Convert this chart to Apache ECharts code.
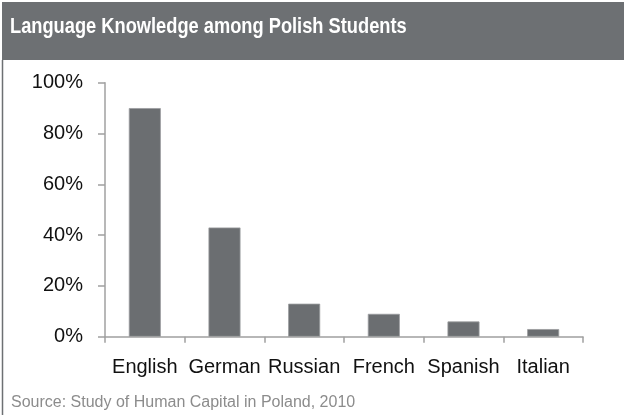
<!DOCTYPE html>
<html>
<head>
<meta charset="utf-8">
<script src="https://cdn.jsdelivr.net/npm/echarts@6/dist/echarts.min.js"></script>
<style>
html,body{margin:0;padding:0;background:#fff;}
#c{width:624px;height:417px;}
</style>
</head>
<body>
<div id="c"></div>
<script>
const titleText = "Language Knowledge among Polish Students";
const sourceText = "Source: Study of Human Capital in Poland, 2010";
const categories = ["English", "German", "Russian", "French", "Spanish", "Italian"];
const values = [90, 43, 13, 9, 6, 3];
const yTicks = [0, 20, 40, 60, 80, 100];

const FONT = '"Liberation Sans", Arial, sans-serif';
const chart = echarts.init(document.getElementById('c'), null, {renderer: 'canvas'});
chart.setOption({
  animation: false,
  backgroundColor: '#ffffff',
  graphic: [
    {type: 'rect', z: -1, shape: {x: 2, y: 2, width: 622, height: 58}, style: {fill: '#6d7073'}},
    {type: 'line', shape: {x1: 2.5, y1: 60, x2: 2.5, y2: 415}, style: {stroke: '#6d7073', lineWidth: 1.5}},
    {type: 'text', x: 10, y: 27, scaleX: 0.83, originX: 0, originY: 0,
      style: {text: titleText, fill: '#ffffff', font: 'bold 22px ' + FONT, verticalAlign: 'middle', align: 'left'}},
    {type: 'text', x: 11, y: 403, style: {text: sourceText, fill: '#8c8c8c', font: '16px ' + FONT, verticalAlign: 'middle'}}
  ],
  grid: {left: 105, right: 41, top: 82.7, bottom: 80.3, containLabel: false},
  xAxis: {
    type: 'category',
    data: categories,
    axisLine: {lineStyle: {color: '#a0a0a0', width: 1.5}},
    axisTick: {show: true, alignWithLabel: false, length: 6, lineStyle: {color: '#a0a0a0', width: 1.5}},
    axisLabel: {color: '#111', fontFamily: FONT, fontSize: 20, margin: 21, interval: 0}
  },
  yAxis: {
    type: 'value',
    min: 0, max: 100, interval: 20,
    splitLine: {show: false},
    axisLine: {show: true, lineStyle: {color: '#a0a0a0', width: 1.5}},
    axisTick: {show: true, length: 7, lineStyle: {color: '#a0a0a0', width: 1.5}},
    axisLabel: {color: '#111', fontFamily: FONT, fontSize: 20, margin: 22,
      formatter: v => yTicks.includes(v) ? v + '%' : ''}
  },
  series: [{
    type: 'bar',
    data: values,
    barWidth: 32,
    itemStyle: {color: '#6b6e71', borderColor: '#9a9c9e', borderWidth: 0.8}
  }]
});
</script>
</body>
</html>
